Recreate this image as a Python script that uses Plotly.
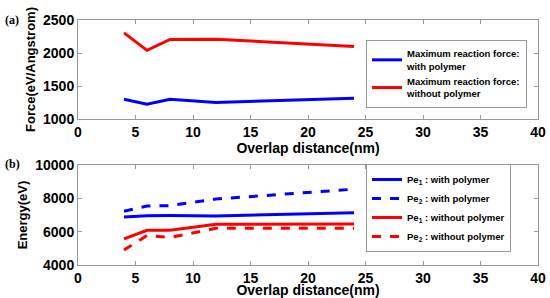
import plotly.graph_objects as go

# Data
x_force = [4, 6, 8, 12, 24]
force_with = [1300, 1225, 1300, 1250, 1315]
force_without = [2305, 2040, 2205, 2210, 2100]

x_energy = [4, 6, 8, 12, 24]
pe1_with = [6880, 6960, 6970, 6940, 7140]
pe2_with = [7230, 7540, 7560, 7960, 8550]
pe1_without = [5570, 6080, 6080, 6440, 6460]
pe2_without = [4900, 5770, 5650, 6200, 6200]

FONT = "Liberation Sans, Arial, sans-serif"
BLUE = "#0000FF"
RED = "#FF0000"

fig = go.Figure()
fig.add_trace(go.Scatter(x=x_force, y=force_with, mode="lines",
                         line=dict(color=BLUE, width=3),
                         name="<b>Maximum reaction force:<br>with polymer</b>",
                         xaxis="x", yaxis="y", legend="legend"))
fig.add_trace(go.Scatter(x=x_force, y=force_without, mode="lines",
                         line=dict(color=RED, width=3),
                         name="<b>Maximum reaction force:<br>without polymer</b>",
                         xaxis="x", yaxis="y", legend="legend"))

fig.add_trace(go.Scatter(x=x_energy, y=pe1_with, mode="lines",
                         line=dict(color=BLUE, width=3),
                         name="<b>Pe<sub>1</sub> : with polymer</b>",
                         xaxis="x2", yaxis="y2", legend="legend2"))
fig.add_trace(go.Scatter(x=x_energy, y=pe2_with, mode="lines",
                         line=dict(color=BLUE, width=3, dash="dash"),
                         name="<b>Pe<sub>2</sub> : with polymer</b>",
                         xaxis="x2", yaxis="y2", legend="legend2"))
fig.add_trace(go.Scatter(x=x_energy, y=pe1_without, mode="lines",
                         line=dict(color=RED, width=3),
                         name="<b>Pe<sub>1</sub> : without polymer</b>",
                         xaxis="x2", yaxis="y2", legend="legend2"))
fig.add_trace(go.Scatter(x=x_energy, y=pe2_without, mode="lines",
                         line=dict(color=RED, width=3, dash="dash"),
                         name="<b>Pe<sub>2</sub> : without polymer</b>",
                         xaxis="x2", yaxis="y2", legend="legend2"))

axis_common = dict(showgrid=False, zeroline=False, showline=True, linecolor="#999999",
                   linewidth=1, mirror="ticks", ticks="inside", ticklen=4,
                   tickcolor="#999999", automargin=False, tickformat="d",
                   tickfont=dict(family=FONT, size=14, color="black", weight="bold"))

W, H = 550, 298
xdom = [78 / W, 538 / W]
xtitle_font = dict(family=FONT, size=14, color="black")

fig.update_layout(
    template="none",
    width=W, height=H,
    margin=dict(l=0, r=0, t=0, b=0, autoexpand=False),
    paper_bgcolor="white", plot_bgcolor="white",
    xaxis=dict(domain=xdom, anchor="y", range=[0, 40], dtick=5,
               title=dict(text="<b>Overlap distance(nm)</b>", standoff=2, font=xtitle_font),
               **axis_common),
    yaxis=dict(domain=[1 - 119 / H, 1 - 20 / H], anchor="x", range=[1000, 2500], dtick=500,
               title=dict(text="<b>Force(eV/Angstrom)</b>", standoff=4,
                          font=dict(family=FONT, size=13, color="black")),
               **axis_common),
    xaxis2=dict(domain=xdom, anchor="y2", range=[0, 40], dtick=5,
                title=dict(text="<b>Overlap distance(nm)</b>", standoff=2, font=xtitle_font),
                **axis_common),
    yaxis2=dict(domain=[1 - 265 / H, 1 - 165 / H], anchor="x2", range=[4000, 10000], dtick=2000,
                title=dict(text="<b>Energy(eV)</b>", standoff=4,
                           font=dict(family=FONT, size=13, color="black")),
                **axis_common),
    legend=dict(x=366 / W, y=1 - 74 / H, xanchor="left", yanchor="middle",
                bgcolor="white", bordercolor="#999999", borderwidth=1,
                font=dict(family=FONT, size=9.5, color="black"),
                itemwidth=30, tracegroupgap=0),
    legend2=dict(x=366 / W, y=1 - 208 / H, xanchor="left", yanchor="middle",
                 bgcolor="white", bordercolor="#999999", borderwidth=1,
                 font=dict(family=FONT, size=9.5, color="black"),
                 itemwidth=30, tracegroupgap=0),
    annotations=[
        dict(text="<b>(a)</b>", x=3 / W, y=1 - 20 / H, xref="paper", yref="paper",
             xanchor="left", yanchor="middle", showarrow=False,
             font=dict(family="Liberation Serif, Times New Roman, serif", size=12, color="black")),
        dict(text="<b>(b)</b>", x=3 / W, y=1 - 164 / H, xref="paper", yref="paper",
             xanchor="left", yanchor="middle", showarrow=False,
             font=dict(family="Liberation Serif, Times New Roman, serif", size=12, color="black")),
    ],
    showlegend=True,
)

fig.write_html("out.html", config={"displayModeBar": False},
               post_script="document.body.style.margin='0';document.body.style.padding='0';")
